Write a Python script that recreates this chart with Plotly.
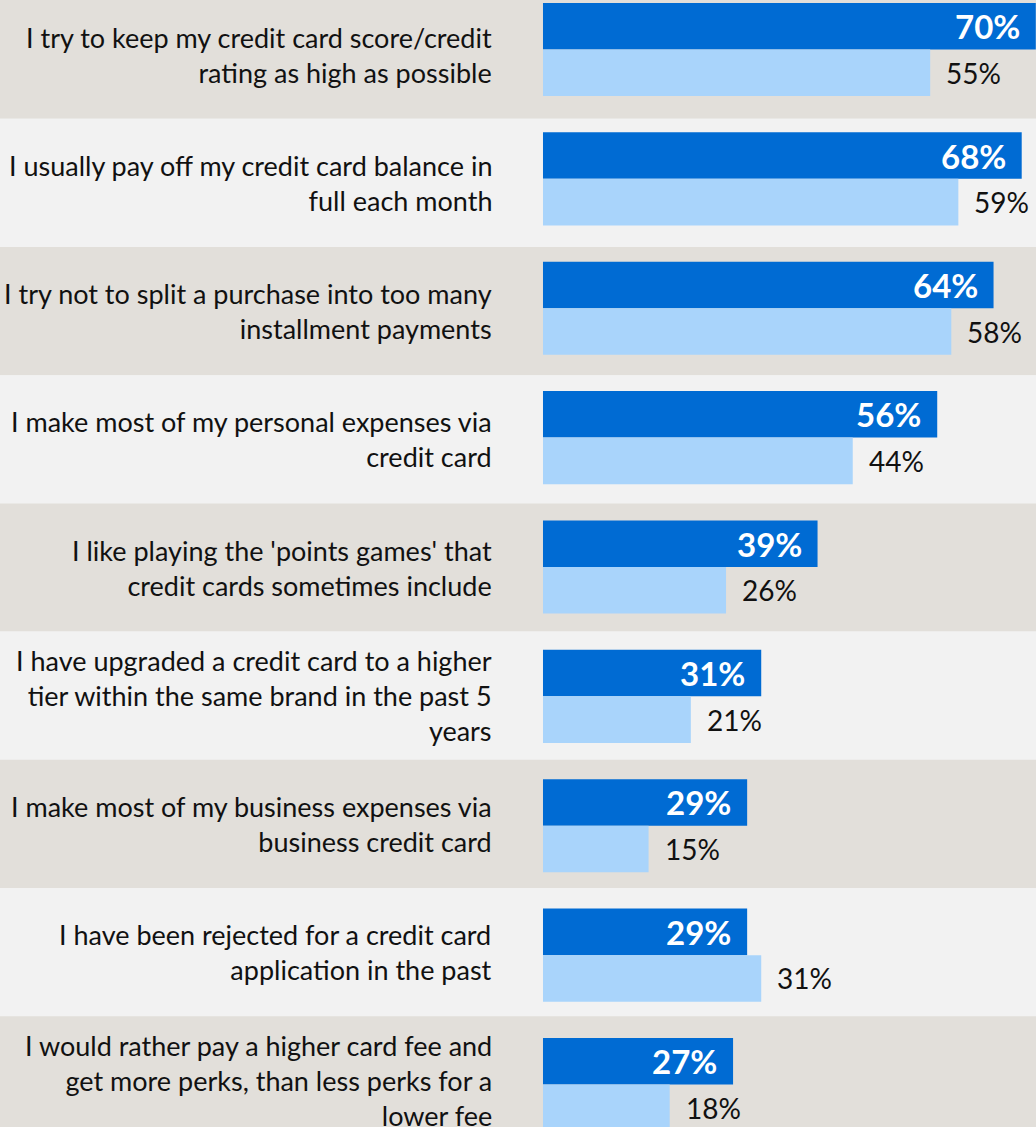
import plotly.graph_objects as go

# Survey statements (top to bottom) and the share agreeing in each group
statements = [
    "I try to keep my credit card score/credit<br>rating as high as possible",
    "I usually pay off my credit card balance in<br>full each month",
    "I try not to split a purchase into too many<br>installment payments",
    "I make most of my personal expenses via<br>credit card",
    "I like playing the 'points games' that<br>credit cards sometimes include",
    "I have upgraded a credit card to a higher<br>tier within the same brand in the past 5<br>years",
    "I make most of my business expenses via<br>business credit card",
    "I have been rejected for a credit card<br>application in the past",
    "I would rather pay a higher card fee and<br>get more perks, than less perks for a<br>lower fee",
]
primary_pct = [70, 68, 64, 56, 39, 31, 29, 29, 27]
secondary_pct = [55, 59, 58, 44, 26, 21, 15, 31, 18]

DARK_BLUE = "#006BD3"
LIGHT_BLUE = "#A9D4FB"
BAND_COLORS = ["#E2DFDA", "#F2F2F2"]
FONT = "Lato, 'Open Sans', sans-serif"

W, H = 1036, 1127
BAR_W = 0.36          # each bar's thickness in row units
ROW_PITCH = 0.991     # spacing of the shaded bands
ROW_OFFSET = 0.04     # band centre relative to its bar pair

idx = list(range(len(statements)))

fig = go.Figure()
fig.add_trace(go.Bar(
    y=idx, x=primary_pct, orientation="h",
    offset=-BAR_W, width=BAR_W,
    marker=dict(color=DARK_BLUE, line=dict(width=0)),
    hoverinfo="skip", showlegend=False,
))
fig.add_trace(go.Bar(
    y=idx, x=secondary_pct, orientation="h",
    offset=0, width=BAR_W,
    marker=dict(color=LIGHT_BLUE, line=dict(width=0)),
    hoverinfo="skip", showlegend=False,
))

shapes = []
annotations = []
for i in idx:
    yc = ROW_OFFSET + ROW_PITCH * i
    shapes.append(dict(
        type="rect", xref="paper", x0=0, x1=1, yref="y",
        y0=yc - ROW_PITCH / 2, y1=yc + ROW_PITCH / 2,
        fillcolor=BAND_COLORS[i % 2], line=dict(width=0), layer="below",
    ))
    annotations.append(dict(
        text=statements[i], xref="paper", x=494 / W, xanchor="right",
        yref="y", y=yc, yanchor="middle", align="right", showarrow=False,
        font=dict(family=FONT, size=27, color="#111111"),
    ))
    annotations.append(dict(
        text=f"<b>{primary_pct[i]}%</b>", xref="x", x=primary_pct[i],
        xanchor="right", xshift=-14, yref="y", y=i - BAR_W / 2,
        yanchor="middle", showarrow=False,
        font=dict(family=FONT, size=33, color="white"),
    ))
    annotations.append(dict(
        text=f"{secondary_pct[i]}%", xref="x", x=secondary_pct[i],
        xanchor="left", xshift=14, yref="y", y=i + BAR_W / 2,
        yanchor="middle", showarrow=False,
        font=dict(family=FONT, size=28, color="#111111"),
    ))

fig.update_layout(
    width=W, height=H,
    margin=dict(l=0, r=0, t=0, b=0),
    paper_bgcolor=BAND_COLORS[1], plot_bgcolor="rgba(0,0,0,0)",
    barmode="overlay",
    shapes=shapes, annotations=annotations,
    xaxis=dict(range=[-77.13, 70.03], visible=False, fixedrange=True),
    yaxis=dict(range=[8.3285, -0.3826], visible=False, fixedrange=True),
)

fig.write_html("out.html")
